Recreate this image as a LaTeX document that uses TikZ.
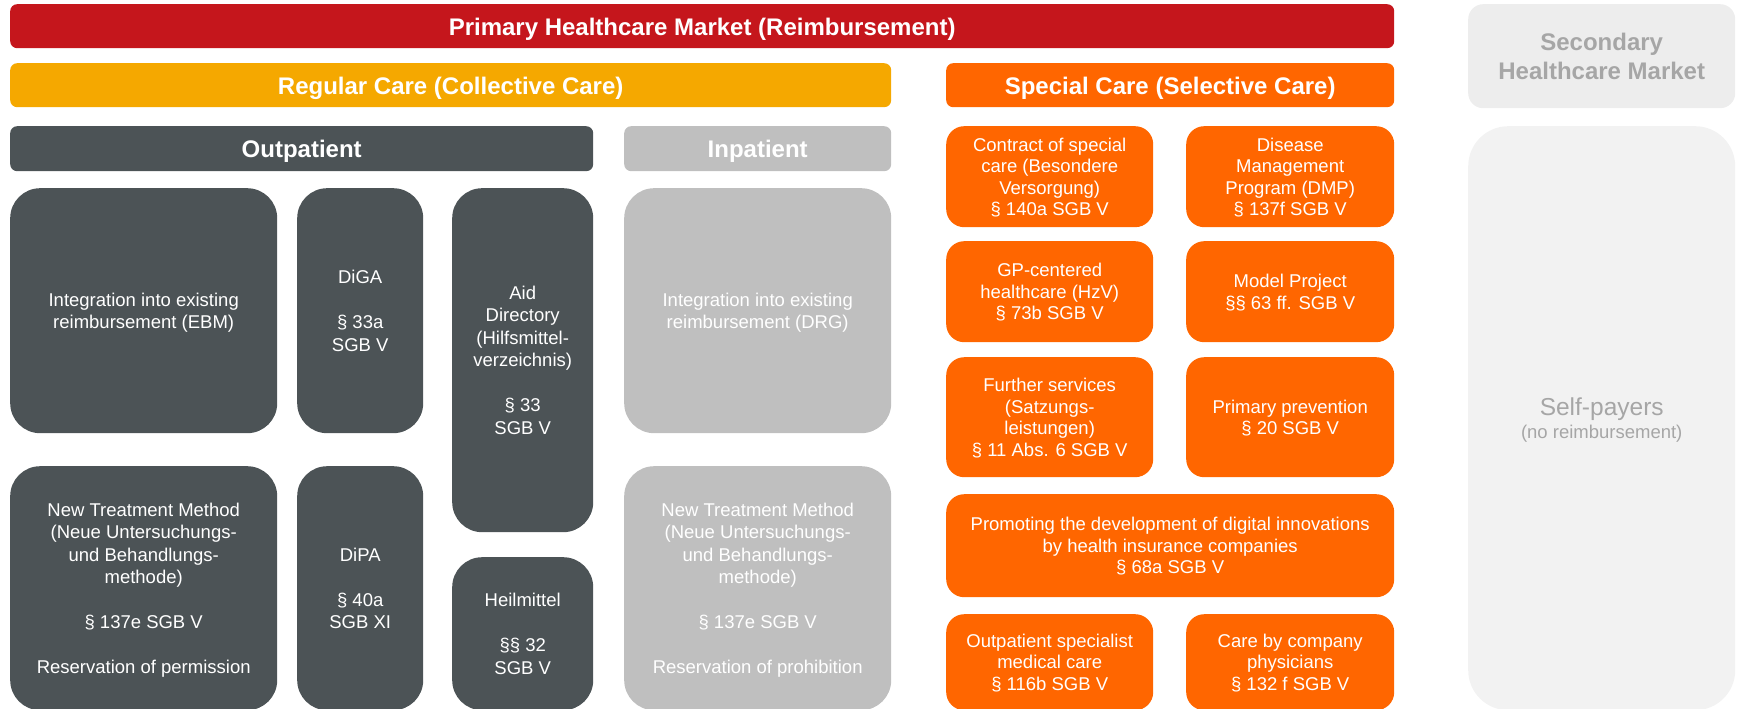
\documentclass[tikz,border=0pt]{standalone}
\usepackage{fontspec}
\setmainfont{Liberation Sans}

% colours of the market overview
\definecolor{marketred}{HTML}{C5161C}
\definecolor{regularyellow}{HTML}{F5A800}
\definecolor{specialorange}{HTML}{FF6600}
\definecolor{outgray}{HTML}{4C5356}
\definecolor{ingray}{HTML}{BFBFBF}
\definecolor{secgray}{HTML}{EDEDED}
\definecolor{selfgray}{HTML}{F2F2F2}
\definecolor{labelgray}{HTML}{A6A6A6}

\tikzset{
  header/.style={rounded corners=7pt, inner sep=0pt, anchor=north west,
    text=white, font=\fontsize{24}{29}\selectfont\bfseries,
    execute at begin node={\rule{0pt}{23pt}}},
  tile/.style={rounded corners=#1, inner sep=0pt, anchor=north west,
    align=center, text=white, text depth=-7pt,
    font=\fontsize{18.5}{22.5}\selectfont},
  outtile/.style={tile=30pt, fill=outgray},
  intile/.style={tile=30pt, fill=ingray},
  spectile/.style={tile=18pt, fill=specialorange, text depth=-5pt, font=\fontsize{18.5}{21.5}\selectfont}
}

\begin{document}
\begin{tikzpicture}[x=1pt, y=-1pt]

    % --- Page frame ---
    \useasboundingbox (0, 0) rectangle (1737, 709);

    % --- Header bars ---
    % Primary market across the first three columns
    \node[header, fill=marketred, minimum width=1384pt, minimum height=44pt] (primary) at (10, 4) {Primary Healthcare Market (Reimbursement)};
    % Regular care
    \node[header, fill=regularyellow, minimum width=881pt, minimum height=44pt] (regular) at (10, 63) {Regular Care (Collective Care)};
    % Special care
    \node[header, fill=specialorange, minimum width=448pt, minimum height=44pt] (special) at (946, 63) {Special Care (Selective Care)};
    % Secondary market
    \node[header, fill=secgray, text=labelgray, align=center, rounded corners=15pt, execute at begin node={}, minimum width=267pt, minimum height=104pt] (secondary) at (1468, 4) {Secondary\\Healthcare Market};
    % Outpatient and inpatient
    \node[header, fill=outgray, minimum width=583pt, minimum height=45pt] (outpatient) at (10, 126) {Outpatient};
    \node[header, fill=ingray, minimum width=267pt, minimum height=45pt] (inpatient) at (624, 126) {Inpatient};

    % --- Outpatient tiles ---
    % EBM
    \node[outtile, minimum width=267pt, minimum height=245pt] (ebm) at (10, 188) {Integration into existing\\reimbursement (EBM)};
    % DiGA
    \node[outtile=22pt, minimum width=126pt, minimum height=245pt] (diga) at (297, 188) {DiGA\\[22.5pt]§ 33a\\SGB V};
    % Aid directory
    \node[outtile=22pt, minimum width=141pt, minimum height=344pt] (aid) at (452, 188) {Aid\\Directory\\(Hilfsmittel-\\verzeichnis)\\[22.5pt]§ 33\\SGB V};
    % New treatment method
    \node[outtile, minimum width=267pt, minimum height=244pt] (nubout) at (10, 466) {New Treatment Method\\(Neue Untersuchungs-\\und Behandlungs-\\methode)\\[22.5pt]§ 137e SGB V\\[22.5pt]Reservation of permission};
    % DiPA
    \node[outtile=22pt, minimum width=126pt, minimum height=244pt] (dipa) at (297, 466) {DiPA\\[22.5pt]§ 40a\\SGB XI};
    % Heilmittel
    \node[outtile=22pt, minimum width=141pt, minimum height=153pt] (heil) at (452, 557) {Heilmittel\\[22.5pt]§§ 32\\SGB V};

    % --- Inpatient tiles ---
    % DRG
    \node[intile, minimum width=267pt, minimum height=245pt] (drg) at (624, 188) {Integration into existing\\reimbursement (DRG)};
    % New treatment method
    \node[intile, minimum width=267pt, minimum height=244pt] (nubin) at (624, 466) {New Treatment Method\\(Neue Untersuchungs-\\und Behandlungs-\\methode)\\[22.5pt]§ 137e SGB V\\[22.5pt]Reservation of prohibition};

    % --- Special care tiles ---
    \node[spectile, minimum width=207pt, minimum height=101pt] (contract) at (946, 126) {Contract of special\\care (Besondere\\Versorgung)\\§ 140a SGB V};
    \node[spectile, minimum width=208pt, minimum height=101pt] (dmp) at (1186, 126) {Disease\\Management\\Program (DMP)\\§ 137f SGB V};
    \node[spectile, minimum width=207pt, minimum height=101pt] (hzv) at (946, 241) {GP-centered\\healthcare (HzV)\\§ 73b SGB V};
    \node[spectile, minimum width=208pt, minimum height=101pt] (model) at (1186, 241) {Model Project\\§§ 63 ff. SGB V};
    \node[spectile, minimum width=207pt, minimum height=120pt] (satzung) at (946, 357) {Further services\\(Satzungs-\\leistungen)\\§ 11 Abs. 6 SGB V};
    \node[spectile, minimum width=208pt, minimum height=120pt] (prevention) at (1186, 357) {Primary prevention\\§ 20 SGB V};
    \node[spectile, minimum width=448pt, minimum height=103pt] (digital) at (946, 494) {Promoting the development of digital innovations\\by health insurance companies\\§ 68a SGB V};
    \node[spectile, minimum width=207pt, minimum height=96pt] (asv) at (946, 614) {Outpatient specialist\\medical care\\§ 116b SGB V};
    \node[spectile, minimum width=208pt, minimum height=96pt] (company) at (1186, 614) {Care by company\\physicians\\§ 132 f SGB V};

    % --- Secondary market ---
    \node[tile=40pt, fill=selfgray, text=labelgray, minimum width=267pt, minimum height=584pt] (selfpay) at (1468, 126) {{\fontsize{24.5}{26}\selectfont Self-payers}\\(no reimbursement)};

\end{tikzpicture}
\end{document}
